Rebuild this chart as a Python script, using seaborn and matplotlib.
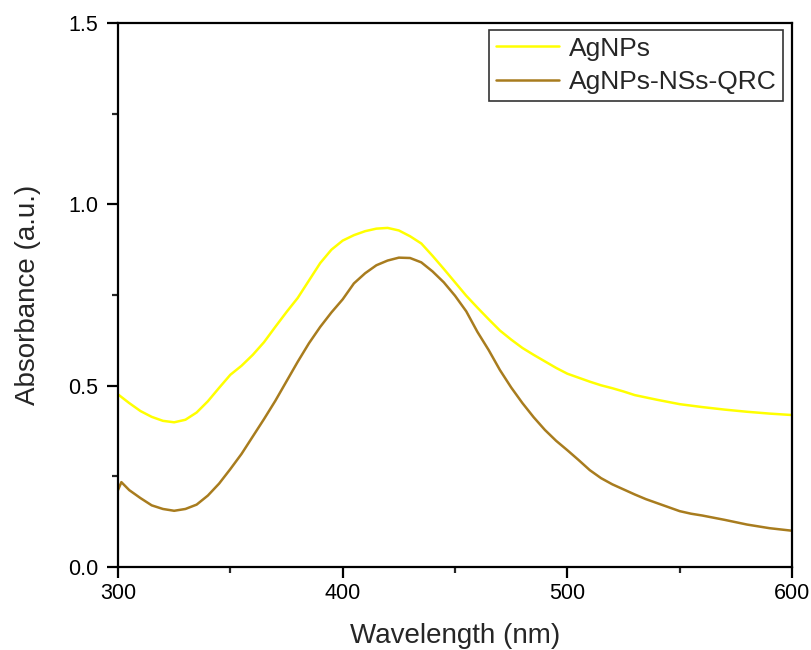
import matplotlib
matplotlib.use("Agg")
import matplotlib.pyplot as plt
import numpy as np
import pandas as pd
import seaborn as sns
from matplotlib.ticker import MultipleLocator

# wavelengths (nm) and absorbance
wl_agnps = [300, 305, 310, 315, 320, 325, 330, 335, 340, 345, 350, 355, 360, 365,
            370, 375, 380, 385, 390, 395, 400, 405, 410, 415, 420, 425, 430, 435,
            440, 445, 450, 455, 460, 465, 470, 475, 480, 485, 490, 495, 500, 505,
            510, 515, 520, 525, 530, 540, 550, 560, 570, 580, 590, 600]
abs_agnps = [0.476, 0.452, 0.430, 0.414, 0.403, 0.399, 0.406, 0.426, 0.457, 0.494,
             0.530, 0.555, 0.585, 0.620, 0.662, 0.703, 0.742, 0.790, 0.838, 0.875,
             0.900, 0.915, 0.926, 0.933, 0.935, 0.928, 0.912, 0.892, 0.858, 0.822,
             0.785, 0.748, 0.715, 0.683, 0.652, 0.627, 0.604, 0.585, 0.567, 0.549,
             0.533, 0.522, 0.511, 0.501, 0.493, 0.484, 0.474, 0.461, 0.449, 0.441,
             0.434, 0.428, 0.423, 0.419]

wl_qrc = [300, 301.5, 305, 310, 315, 320, 325, 330, 335, 340, 345, 350, 355, 360,
          365, 370, 375, 380, 385, 390, 395, 400, 405, 410, 415, 420, 425, 430,
          435, 440, 445, 450, 455, 460, 465, 470, 475, 480, 485, 490, 495, 500,
          505, 510, 515, 520, 525, 530, 535, 540, 545, 550, 555, 560, 570, 580,
          590, 600]
abs_qrc = [0.212, 0.234, 0.212, 0.190, 0.170, 0.160, 0.155, 0.160, 0.172, 0.197,
           0.230, 0.270, 0.312, 0.360, 0.408, 0.458, 0.512, 0.566, 0.617, 0.662,
           0.702, 0.738, 0.782, 0.810, 0.832, 0.845, 0.853, 0.852, 0.840, 0.815,
           0.785, 0.748, 0.705, 0.648, 0.598, 0.543, 0.495, 0.452, 0.413, 0.378,
           0.348, 0.322, 0.295, 0.267, 0.245, 0.228, 0.214, 0.200, 0.187, 0.176,
           0.165, 0.154, 0.147, 0.142, 0.130, 0.117, 0.107, 0.100]

labels = ["AgNPs", "AgNPs-NSs-QRC"]
colors = ["#FFFF00", "#A87C1E"]

df = pd.concat([
    pd.DataFrame({"wl": wl_agnps, "abs": abs_agnps, "sample": labels[0]}),
    pd.DataFrame({"wl": wl_qrc, "abs": abs_qrc, "sample": labels[1]}),
])

sns.set_style("ticks")
plt.rcParams["font.family"] = ["Liberation Sans", "DejaVu Sans"]

fig = plt.figure(figsize=(8.11, 6.5), dpi=100)
ax = fig.add_axes([0.1455, 0.1277, 0.8311, 0.8369])

sns.lineplot(data=df, x="wl", y="abs", hue="sample", palette=colors,
             linewidth=1.8, ax=ax, sort=False, estimator=None)

ax.set_xlim(300, 600)
ax.set_ylim(0, 1.5)
ax.xaxis.set_major_locator(MultipleLocator(100))
ax.xaxis.set_minor_locator(MultipleLocator(50))
ax.yaxis.set_major_locator(MultipleLocator(0.5))
ax.yaxis.set_minor_locator(MultipleLocator(0.25))
ax.yaxis.set_major_formatter(matplotlib.ticker.FormatStrFormatter("%.1f"))

for s in ax.spines.values():
    s.set_linewidth(1.6)
    s.set_color("black")
ax.tick_params(which="major", direction="out", length=8, width=1.6,
               labelsize=15.5, colors="black", top=False, right=False)
ax.tick_params(which="minor", direction="out", length=4, width=1.6,
               top=False, right=False)
ax.tick_params(axis="y", pad=6)

ax.set_xlabel("Wavelength (nm)", fontsize=20, labelpad=14)
ax.set_ylabel("Absorbance (a.u.)", fontsize=20, labelpad=20)

leg = ax.legend(loc="upper right", fontsize=19, frameon=True, fancybox=False,
                edgecolor="#333333", framealpha=1, handlelength=2.4,
                borderpad=0.25, labelspacing=0.35, handletextpad=0.35,
                borderaxespad=0, bbox_to_anchor=(0.9866, 0.987))
leg.get_frame().set_linewidth(1.2)
for line in leg.get_lines():
    line.set_linewidth(1.8)

fig.savefig("out.png", dpi=100)
